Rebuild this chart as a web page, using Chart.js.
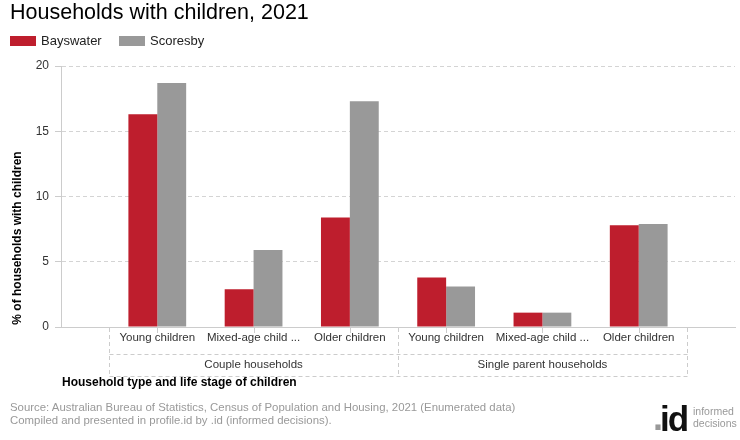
<!DOCTYPE html>
<html>
<head>
<meta charset="utf-8">
<script src="https://cdn.jsdelivr.net/npm/chart.js@4"></script>
<style>
  body { margin: 0; background: #fff; font-family: Arial, "Liberation Sans", sans-serif; }
  #wrap { position: relative; width: 740px; height: 440px; }
  #chart { position: absolute; left: 0; top: 0; }
  .title { position: absolute; left: 10px; top: 0px; font-size: 21.5px; color: #000; }
  .legend { position: absolute; top: 33px; font-size: 13px; color: #222; }
  .legend span.box { display: inline-block; width: 26px; height: 10px; vertical-align: -1px; margin-right: 5px; }
  .footer { position: absolute; left: 10px; top: 401px; font-size: 11.4px; color: #999; line-height: 13px; }
  .logo-dot { position: absolute; left: 653px; top: 399px; font-size: 36px; font-weight: bold; color: #999; line-height: 38px; }
  .logo-id { position: absolute; left: 660px; top: 400px; font-size: 35px; font-weight: bold; color: #111; line-height: 38px; letter-spacing: -2px; }
  .logo-words { position: absolute; left: 693px; top: 405px; font-size: 10.5px; color: #999; line-height: 12px; }
</style>
</head>
<body>
<div id="wrap">
  <canvas id="chart" width="740" height="440"></canvas>
  <div class="title">Households with children, 2021</div>
  <div class="legend" style="left:10px"><span class="box" style="background:#BE1E2D"></span>Bayswater</div>
  <div class="legend" style="left:119px"><span class="box" style="background:#999999"></span>Scoresby</div>
  <div class="footer">Source: Australian Bureau of Statistics, Census of Population and Housing, 2021 (Enumerated data)<br>Compiled and presented in profile.id by .id (informed decisions).</div>
  <div class="logo-dot">.</div>
  <div class="logo-id">id</div>
  <div class="logo-words">informed<br>decisions</div>
</div>
<script>
const categories = ["Young children", "Mixed-age child ...", "Older children",
                    "Young children", "Mixed-age child ...", "Older children"];
const groups = ["Couple households", "Single parent households"];
const groupSize = 3;
const bayswater = [16.3, 2.9, 8.4, 3.8, 1.1, 7.8];
const scoresby = [18.7, 5.9, 17.3, 3.1, 1.1, 7.9];
const yTicks = [0, 5, 10, 15, 20];

const FONT = 'Arial, "Liberation Sans", sans-serif';

// category labels, group boxes and axis titles drawn under the x scale
const axisLabels = {
  id: "axisLabels",
  afterDraw(chart) {
    const ctx = chart.ctx;
    const x = chart.scales.x;
    const area = chart.chartArea;
    const base = area.bottom;
    const half = (x.getPixelForValue(1) - x.getPixelForValue(0)) / 2;
    ctx.save();

    // short ticks at category centres
    ctx.strokeStyle = "#ccc";
    ctx.lineWidth = 1;
    categories.forEach((c, i) => {
      const px = Math.round(x.getPixelForValue(i)) + 0.5;
      ctx.beginPath();
      ctx.moveTo(px, base);
      ctx.lineTo(px, base + 6);
      ctx.stroke();
    });

    // dashed group boxes
    ctx.setLineDash([4, 3]);
    const left = Math.round(x.getPixelForValue(0) - half) + 0.5;
    const right = Math.round(x.getPixelForValue(categories.length - 1) + half) + 0.5;
    for (let g = 0; g <= groups.length; g++) {
      const px = Math.round(x.getPixelForValue(g * groupSize) - half) + 0.5;
      ctx.beginPath();
      ctx.moveTo(px, base + 1);
      ctx.lineTo(px, base + 49);
      ctx.stroke();
    }
    [base + 27.5, base + 49.5].forEach(py => {
      ctx.beginPath();
      ctx.moveTo(left, py);
      ctx.lineTo(right, py);
      ctx.stroke();
    });
    ctx.setLineDash([]);

    ctx.fillStyle = "#333";
    ctx.font = "11.5px " + FONT;
    ctx.textAlign = "center";
    ctx.textBaseline = "middle";
    categories.forEach((c, i) => {
      ctx.fillText(c, x.getPixelForValue(i), base + 11);
    });
    groups.forEach((g, k) => {
      const mid = (x.getPixelForValue(k * groupSize) + x.getPixelForValue(k * groupSize + groupSize - 1)) / 2;
      ctx.fillText(g, mid, base + 38);
    });

    // axis titles
    ctx.fillStyle = "#000";
    ctx.font = "bold 12px " + FONT;
    ctx.textAlign = "left";
    ctx.fillText("Household type and life stage of children", 62, base + 56);
    ctx.translate(18, 238);
    ctx.rotate(-Math.PI / 2);
    ctx.textAlign = "center";
    ctx.fillText("% of households with children", 0, 0);
    ctx.restore();
  }
};

new Chart(document.getElementById("chart"), {
  type: "bar",
  data: {
    datasets: [
      {
        label: "Bayswater",
        data: bayswater.map((v, i) => ({ x: i, y: v })),
        backgroundColor: "#BE1E2D"
      },
      {
        label: "Scoresby",
        data: scoresby.map((v, i) => ({ x: i, y: v })),
        backgroundColor: "#999999"
      }
    ]
  },
  options: {
    responsive: false,
    animation: false,
    layout: { padding: { top: 66, right: 5, left: 0, bottom: 0 } },
    categoryPercentage: 0.6,
    barPercentage: 1.0,
    plugins: { legend: { display: false }, title: { display: false }, tooltip: { enabled: false } },
    scales: {
      x: {
        type: "linear",
        min: -1,
        max: categories.length,
        offset: false,
        grid: { display: false },
        border: { color: "#ccc" },
        ticks: { display: false },
        afterFit: s => { s.height = 113; }
      },
      y: {
        min: 0,
        max: 20,
        afterBuildTicks: s => { s.ticks = yTicks.map(v => ({ value: v })); },
        grid: { color: "#d4d4d4", tickLength: 6, tickColor: "#ccc" },
        border: { color: "#ccc", dash: [4, 3], display: true },
        ticks: { color: "#333", font: { family: FONT, size: 12 }, padding: 6 },
        afterFit: s => { s.width = 61; }
      }
    }
  },
  plugins: [axisLabels]
});
</script>
</body>
</html>
